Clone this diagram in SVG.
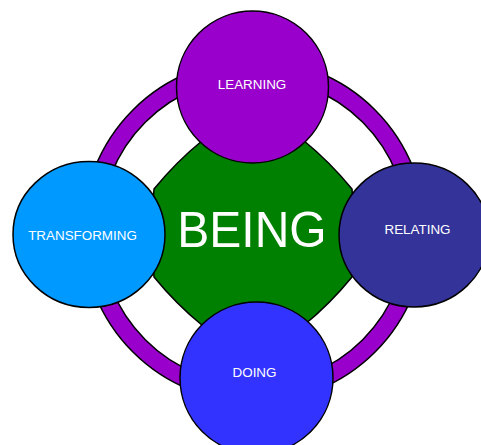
<svg xmlns="http://www.w3.org/2000/svg" width="481" height="445" viewBox="0 0 481 445">
  <defs>
    <style>
      .ring-edge { fill: none; stroke: #000; stroke-width: 19; }
      .ring { fill: none; stroke: #9900cc; stroke-width: 16; }
      .node { stroke: #000; stroke-width: 1.5; }
      .label { font-family: "Liberation Sans", Arial, sans-serif; fill: #fff; text-anchor: middle; }
      .small { font-size: 13.4px; }
    </style>
    <path id="arc-ul" d="M 254 68.5 A 162.5 162.5 0 0 0 91.5 231"/>
    <path id="arc-ll" d="M 91.5 231 A 162.5 162.5 0 0 0 254 393.5"/>
    <path id="arc-lr" d="M 254 393.5 A 162.5 162.5 0 0 0 416.5 231"/>
    <path id="arc-ur" d="M 416.5 231 A 162.5 162.5 0 0 0 254 68.5"/>
  </defs>
  <rect width="481" height="445" fill="#fff"/>

  <!-- purple ring joining the four outer circles -->
  <g id="connectors">
    <use href="#arc-ul" class="ring-edge"/>
    <use href="#arc-ll" class="ring-edge"/>
    <use href="#arc-lr" class="ring-edge"/>
    <use href="#arc-ur" class="ring-edge"/>
    <use href="#arc-ul" class="ring"/>
    <use href="#arc-ll" class="ring"/>
    <use href="#arc-lr" class="ring"/>
    <use href="#arc-ur" class="ring"/>
  </g>

  <!-- central octagon -->
  <g id="being">
    <path class="node" fill="#008000" d="M 203 140 Q 253 136 303 140 Q 330 162 352 189 Q 356 233 352 277 Q 330 304 303 326 Q 253 330 203 326 Q 176 304 154 277 Q 150 233 154 189 Q 176 162 203 140 Z"/>
    <text class="label" x="252" y="247" font-size="48" transform="translate(252 247) scale(1 1.05) translate(-252 -247)">BEING</text>
  </g>

  <g id="learning">
    <ellipse class="node" fill="#9900cc" cx="252.5" cy="87" rx="76" ry="76"/>
    <text class="label small" x="252" y="89">LEARNING</text>
  </g>

  <g id="transforming">
    <ellipse class="node" fill="#0099ff" cx="89" cy="234.5" rx="76" ry="73"/>
    <text class="label small" x="82.5" y="240">TRANSFORMING</text>
  </g>

  <g id="relating">
    <ellipse class="node" fill="#333399" cx="414" cy="235" rx="75" ry="72"/>
    <text class="label small" x="417.5" y="234">RELATING</text>
  </g>

  <g id="doing">
    <ellipse class="node" fill="#3333ff" cx="256.5" cy="378" rx="76.5" ry="76"/>
    <text class="label small" x="254.5" y="377">DOING</text>
  </g>
</svg>
